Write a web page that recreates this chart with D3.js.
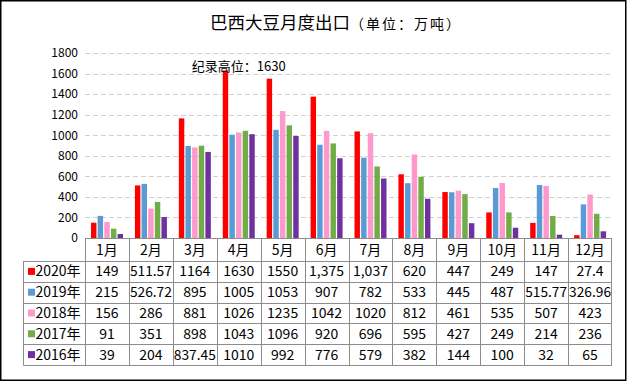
<!DOCTYPE html>
<html><head><meta charset="utf-8">
<script src="https://cdn.jsdelivr.net/npm/d3@7"></script>
<style>body{margin:0;background:#fff}svg{display:block}text{font-family:"Noto Sans CJK SC","Microsoft YaHei",sans-serif}</style>
</head><body><svg id="c" width="627" height="382"></svg>
<script>
const months = ["1月","2月","3月","4月","5月","6月","7月","8月","9月","10月","11月","12月"];
const seriesNames = ["2020年","2019年","2018年","2017年","2016年"];
const colors = ["#FF0000","#5B9BD5","#FF99CC","#70AD47","#7030A0"];
const v2020 = [149,511.57,1164,1630,1550,1375,1037,620,447,249,147,27.4];
const v2019 = [215,526.72,895,1005,1053,907,782,533,445,487,515.77,326.96];
const v2018 = [156,286,881,1026,1235,1042,1020,812,461,535,507,423];
const v2017 = [91,351,898,1043,1096,920,696,595,427,249,214,236];
const v2016 = [39,204,837.45,1010,992,776,579,382,144,100,32,65];
const text2020 = ["149","511.57","1164","1630","1550","1,375","1,037","620","447","249","147","27.4"];
const yTicks = [0,200,400,600,800,1000,1200,1400,1600,1800];
const title = "巴西大豆月度出口";
const subtitle = "（单位：万吨）";
const note = "纪录高位：1630";

const values = [v2020,v2019,v2018,v2017,v2016];
const svg = d3.select("#c");

const x0 = d3.scaleBand().domain(months).range([85,612]).padding(0);
const x1 = d3.scaleBand().domain(seriesNames).range([6, 38]).paddingInner(0.18);
const y = d3.scaleLinear().domain([0,1800]).range([238,53]);

// border
svg.append("rect").attr("x",0.75).attr("y",0.75).attr("width",625).attr("height",379.5)
  .attr("fill","#fff").attr("stroke","#000").attr("stroke-width",1.5);

// title
const t = svg.append("text").attr("x",336).attr("y",29).attr("text-anchor","middle").attr("fill","#000");
t.append("tspan").attr("font-size",17.5).text(title);
t.append("tspan").attr("font-size",14).attr("letter-spacing",2).text(subtitle);

// gridlines
svg.append("g").selectAll("line").data(yTicks.filter(d=>d>0)).join("line")
  .attr("x1",85).attr("x2",612).attr("y1",d=>Math.round(y(d))+0.5).attr("y2",d=>Math.round(y(d))+0.5)
  .attr("stroke","#D0D0D0").attr("stroke-width",1).attr("stroke-dasharray","5,3");

// y axis
const ya = svg.append("g").attr("transform","translate(85,0)")
  .call(d3.axisLeft(y).tickValues(yTicks).tickSize(0).tickPadding(7).tickFormat(d3.format("d")));
ya.select(".domain").remove();
ya.selectAll("text").attr("font-size",12).attr("fill","#000")
  .style("font-family","'Noto Sans CJK SC',sans-serif");

// bars
const g = svg.append("g");
months.forEach((m,i)=>{
  seriesNames.forEach((s,j)=>{
    const v = values[j][i];
    g.append("rect").attr("x",x0(m)+x1(s)).attr("width",x1.bandwidth())
      .attr("y",y(v)).attr("height",y(0)-y(v)).attr("fill",colors[j]);
  });
});

// annotation
svg.append("text").attr("x",x0("4月")+x1("2020年")-31).attr("y",y(1630)+1)
  .attr("font-size",13).attr("fill","#000").text(note);

// table
const rowTop = 238, headH = 23, rowH = 20.8, legendLeft = 23.5;
const tb = svg.append("g");
const lineColor = "#8C8C8C";
// horizontal lines
tb.append("line").attr("x1",85).attr("x2",612).attr("y1",rowTop+0.5).attr("y2",rowTop+0.5).attr("stroke",lineColor);
for(let r=0;r<=seriesNames.length;r++){
  const yy = Math.round(rowTop+headH+r*rowH)+0.5;
  tb.append("line").attr("x1",legendLeft).attr("x2",612).attr("y1",yy).attr("y2",yy).attr("stroke",lineColor);
}
const bottom = Math.round(rowTop+headH+seriesNames.length*rowH)+0.5;
// vertical lines
tb.append("line").attr("x1",legendLeft).attr("x2",legendLeft).attr("y1",rowTop+headH).attr("y2",bottom).attr("stroke",lineColor);
months.forEach((m,i)=>{
  const xx = Math.round(x0(m))+0.5;
  tb.append("line").attr("x1",xx).attr("x2",xx).attr("y1",rowTop).attr("y2",bottom).attr("stroke",lineColor);
});
tb.append("line").attr("x1",611.5).attr("x2",611.5).attr("y1",rowTop).attr("y2",bottom).attr("stroke",lineColor);

// header
months.forEach(m=>{
  tb.append("text").attr("x",x0(m)+x0.bandwidth()/2).attr("y",rowTop+headH/2+5)
    .attr("text-anchor","middle").attr("font-size",14).attr("fill","#000").text(m);
});
// rows
seriesNames.forEach((s,j)=>{
  const cy = rowTop+headH+j*rowH+rowH/2;
  tb.append("rect").attr("x",28).attr("y",cy-3.5).attr("width",7).attr("height",7).attr("fill",colors[j]);
  tb.append("text").attr("x",35.5).attr("y",cy+5).attr("font-size",14).attr("fill","#000").text(s);
  months.forEach((m,i)=>{
    const txt = j===0 ? text2020[i] : String(values[j][i]);
    tb.append("text").attr("x",x0(m)+x0.bandwidth()/2).attr("y",cy+5)
      .attr("text-anchor","middle").attr("font-size",14).attr("fill","#000")
      .attr("textLength", txt.length>=6 ? 42 : null).attr("lengthAdjust","spacingAndGlyphs").text(txt);
  });
});
</script></body></html>
